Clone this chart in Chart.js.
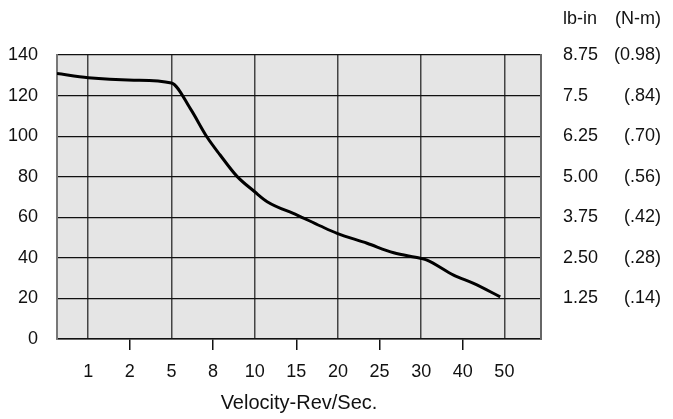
<!DOCTYPE html>
<html>
<head>
<meta charset="utf-8">
<script src="https://cdn.jsdelivr.net/npm/chart.js@4.4.1/dist/chart.umd.min.js"></script>
<style>
  html, body { margin: 0; padding: 0; background: #fff; }
  #wrap { width: 673px; height: 419px; }
</style>
</head>
<body>
<div id="wrap"><canvas id="chart"></canvas></div>
<script>
// x軸ラベル（等間隔に並ぶ目盛り）
const velocityLabels = ["1", "2", "5", "8", "10", "15", "20", "25", "30", "40", "50"];
// カーブの点：x は目盛り位置（0 = "1", 10 = "50"）、y はトルク(oz-in)
const curvePos = [-0.75, 0, 1.1, 2.0, 2.45, 2.85, 3.17, 3.57, 4.0, 4.3, 5.02, 5.58, 5.98, 6.7, 7.34, 7.98, 8.14, 8.78, 9.26, 9.9];
const torque   = [130.9, 128.8, 127.6, 126.2, 113.7, 99.7, 90.7, 80.3, 72.6, 67.7, 61.1, 55.7, 52.1, 47.2, 42.5, 39.8, 38.9, 31.5, 27.4, 20.8];
// 右側の換算目盛り（20..140 に対応）
const rightTicks = [20, 40, 60, 80, 100, 120, 140];
const lbInLabels = ["1.25", "2.50", "3.75", "5.00", "6.25", "7.5", "8.75"];
const nmLabels   = ["(.14)", "(.28)", "(.42)", "(.56)", "(.70)", "(.84)", "(0.98)"];

const FONT = { family: "'Liberation Sans', Arial, Helvetica, sans-serif", size: 18 };
const TEXT = "#111";

// プロット領域の背景
const bgPlugin = {
  id: "plotBg",
  beforeDraw(c) {
    const { ctx, chartArea: a } = c;
    ctx.save();
    ctx.fillStyle = "#e5e5e5";
    ctx.fillRect(a.left, a.top, a.right - a.left, a.bottom - a.top);
    ctx.restore();
  }
};

// 右上の単位見出し
const headerPlugin = {
  id: "unitHeader",
  afterDraw(c) {
    const { ctx } = c;
    const y2 = c.scales.y2, y3 = c.scales.y3;
    ctx.save();
    ctx.font = `${FONT.size}px ${FONT.family}`;
    ctx.fillStyle = TEXT;
    ctx.textBaseline = "middle";
    ctx.textAlign = "left";
    ctx.fillText("lb-in", y2.left + 22, 19);
    ctx.textAlign = "right";
    ctx.fillText("(N-m)", y3.right, 19);
    ctx.restore();
  }
};

const rightAxis = (labels, extra) => Object.assign({
  position: "right",
  min: 0, max: 140,
  afterBuildTicks: s => { s.ticks = rightTicks.map(v => ({ value: v })); },
  grid: { drawOnChartArea: false, drawTicks: false },
  ticks: {
    font: FONT, color: TEXT,
    callback: (v) => labels[rightTicks.indexOf(v)]
  }
}, extra);

const chart = new Chart(document.getElementById("chart"), {
  type: "line",
  data: {
    datasets: [{
      data: curvePos.map((x, i) => ({ x, y: torque[i] })),
      borderColor: "#000",
      borderWidth: 3,
      pointRadius: 0,
      cubicInterpolationMode: "monotone",
      fill: false
    }]
  },
  options: {
    responsive: true,
    maintainAspectRatio: false,
    animation: false,
    layout: { padding: { top: 55, left: 0, right: 12, bottom: 0 } },
    plugins: { legend: { display: false }, tooltip: { enabled: false } },
    scales: {
      x: {
        type: "linear",
        min: -0.75, max: 10.88,
        afterBuildTicks: s => { s.ticks = velocityLabels.map((_, i) => ({ value: i })); },
        afterFit: s => { s.height = 80; },
        grid: {
          color: ctx => ctx.index % 2 === 0 ? "#444" : "rgba(0,0,0,0)",
          tickColor: ctx => ctx.index % 2 === 1 ? "#111" : "rgba(0,0,0,0)",
          lineWidth: 1.5,
          tickLength: 11
        },
        border: { color: "#111", width: 1.5 },
        ticks: {
          font: FONT, color: TEXT, padding: 11, maxRotation: 0, autoSkip: false,
          callback: (v) => velocityLabels[v]
        },
        title: {
          display: true, text: "Velocity-Rev/Sec.",
          font: { family: FONT.family, size: 20 }, color: TEXT, padding: { top: 0, bottom: 4 }
        }
      },
      y: {
        position: "left",
        min: 0, max: 140,
        afterFit: s => { s.width = 57; },
        grid: { color: "#111", lineWidth: 1.2, drawTicks: false },
        border: { color: "#777", width: 2 },
        ticks: { stepSize: 20, font: FONT, color: TEXT, padding: 19 }
      },
      y2: rightAxis(lbInLabels, {
        afterFit: s => { s.width = 60; },
        border: { color: "#666", width: 2 },
        ticks: { font: FONT, color: TEXT, padding: 22, crossAlign: "near",
          callback: (v) => lbInLabels[rightTicks.indexOf(v)] }
      }),
      y3: rightAxis(nmLabels, {
        afterFit: s => { s.width = 60; },
        border: { display: false },
        grid: { display: false, drawOnChartArea: false, drawTicks: false },
        ticks: { font: FONT, color: TEXT, padding: 2, crossAlign: "far",
          callback: (v) => nmLabels[rightTicks.indexOf(v)] }
      })
    }
  },
  plugins: [bgPlugin, headerPlugin]
});
</script>
</body>
</html>
